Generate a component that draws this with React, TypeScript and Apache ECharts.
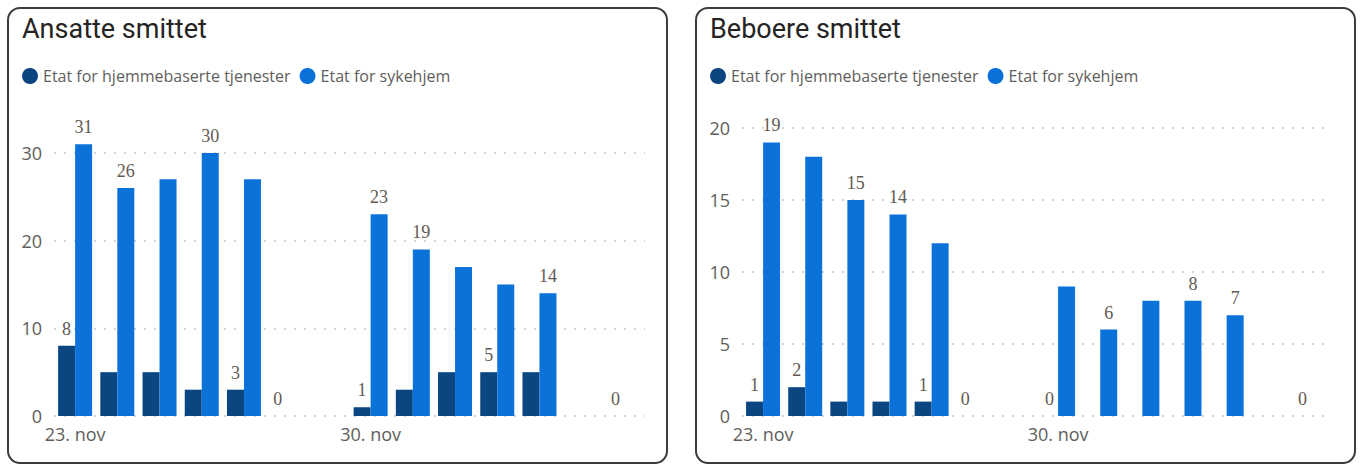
import React, { useEffect, useRef } from "react";
import * as echarts from "echarts";

const dates = [
  "23. nov", "24. nov", "25. nov", "26. nov", "27. nov", "28. nov", "29. nov",
  "30. nov", "1. des", "2. des", "3. des", "4. des", "5. des", "6. des",
];
const seriesNames = ["Etat for hjemmebaserte tjenester", "Etat for sykehjem"];

// Ansatte smittet
const ansatteHjem = [8, 5, 5, 3, 3, 0, null, 1, 3, 5, 5, 5, null, 0];
const ansatteSyk = [31, 26, 27, 30, 27, null, null, 23, 19, 17, 15, 14, null, null];
const ansatteHjemLabelIdx = [0, 4, 5, 7, 10, 13];
const ansatteSykLabelIdx = [0, 1, 3, 7, 8, 11];
const ansatteTicks = [0, 10, 20, 30];

// Beboere smittet
const beboereHjem = [1, 2, 1, 1, 1, 0, null, 0, 0, 0, 0, 0, null, 0];
const beboereSyk = [19, 18, 15, 14, 12, null, null, 9, 6, 8, 8, 7, null, null];
const beboereHjemLabelIdx = [0, 1, 4, 5, 7, 13];
const beboereSykLabelIdx = [0, 2, 3, 8, 10, 11];
const beboereTicks = [0, 5, 10, 15, 20];

const DARK = "#0B4680";
const LIGHT = "#0B72D9";
const GRAY = "#605E5C";
const SANS = "'Open Sans', 'Noto Sans', sans-serif";

function mkData(vals: (number | null)[], labelIdx: number[]) {
  return vals.map((v, i) => ({ value: v, label: { show: labelIdx.includes(i) } }));
}

export default function App() {
  const ref = useRef<HTMLDivElement>(null);
  useEffect(() => {
    if (!ref.current) return;
    const chart = echarts.init(ref.current, null, { renderer: "svg" });
    const labelStyle = {
      position: "top" as const,
      distance: 8,
      color: "#625a53",
      fontFamily: "'Liberation Serif', 'DejaVu Serif', serif",
      fontSize: 18,
    };
    const grids = [
      { left: 54, width: 591, top: 153, bottom: 48 },
      { left: 742, width: 590, top: 128, bottom: 48 },
    ];
    const yAxes = [
      { max: ansatteTicks[ansatteTicks.length - 1], interval: ansatteTicks[1] - ansatteTicks[0] },
      { max: beboereTicks[beboereTicks.length - 1], interval: beboereTicks[1] - beboereTicks[0] },
    ];
    const mkSeries = (name: string, color: string, data: any[], idx: number) => ({
      type: "bar",
      name,
      xAxisIndex: idx,
      yAxisIndex: idx,
      barWidth: 17,
      barGap: "0%",
      clip: false,
      itemStyle: { color },
      label: labelStyle,
      data,
    });
    const titleStyle = { fontFamily: "Roboto, sans-serif", fontSize: 27, fontWeight: "normal", color: "#252423" };
    const legendBase = {
      top: 68,
      padding: 0,
      icon: "circle",
      itemWidth: 16,
      itemHeight: 16,
      itemGap: 9,
      data: seriesNames,
      textStyle: { color: GRAY, fontFamily: SANS, fontSize: 16 },
    };
    chart.setOption({
      animation: false,
      title: [
        { text: "Ansatte smittet", left: 22, top: 15, padding: 0, textStyle: titleStyle },
        { text: "Beboere smittet", left: 710, top: 15, padding: 0, textStyle: titleStyle },
      ],
      legend: [
        { ...legendBase, left: 22 },
        { ...legendBase, left: 710 },
      ],
      graphic: [
        { type: "rect", shape: { x: 8, y: 8, width: 659, height: 455, r: 12 }, style: { fill: "none", stroke: "#3c3c3c", lineWidth: 2 } },
        { type: "rect", shape: { x: 696, y: 8, width: 659, height: 455, r: 12 }, style: { fill: "none", stroke: "#3c3c3c", lineWidth: 2 } },
      ],
      grid: grids,
      xAxis: [0, 1].map((i) => ({
        type: "category",
        gridIndex: i,
        data: dates,
        axisLine: { show: false },
        axisTick: { show: false },
        axisLabel: { interval: 6, color: GRAY, fontFamily: SANS, fontSize: 18, margin: 9 },
      })),
      yAxis: yAxes.map((y, i) => ({
        type: "value",
        gridIndex: i,
        min: 0,
        max: y.max,
        interval: y.interval,
        axisLine: { show: false },
        axisTick: { show: false },
        axisLabel: { color: GRAY, fontFamily: SANS, fontSize: 18, margin: 12 },
        splitLine: { lineStyle: { color: "#c8c8c8", type: [2, 8], width: 1.5 } },
      })),
      series: [
        mkSeries(seriesNames[0], DARK, mkData(ansatteHjem, ansatteHjemLabelIdx), 0),
        mkSeries(seriesNames[1], LIGHT, mkData(ansatteSyk, ansatteSykLabelIdx), 0),
        mkSeries(seriesNames[0], DARK, mkData(beboereHjem, beboereHjemLabelIdx), 1),
        mkSeries(seriesNames[1], LIGHT, mkData(beboereSyk, beboereSykLabelIdx), 1),
      ],
    });
    return () => chart.dispose();
  }, []);
  return (
    <div
      ref={ref}
      style={{ position: "absolute", left: 0, top: 0, width: 1362, height: 464, background: "#fff" }}
    />
  );
}
